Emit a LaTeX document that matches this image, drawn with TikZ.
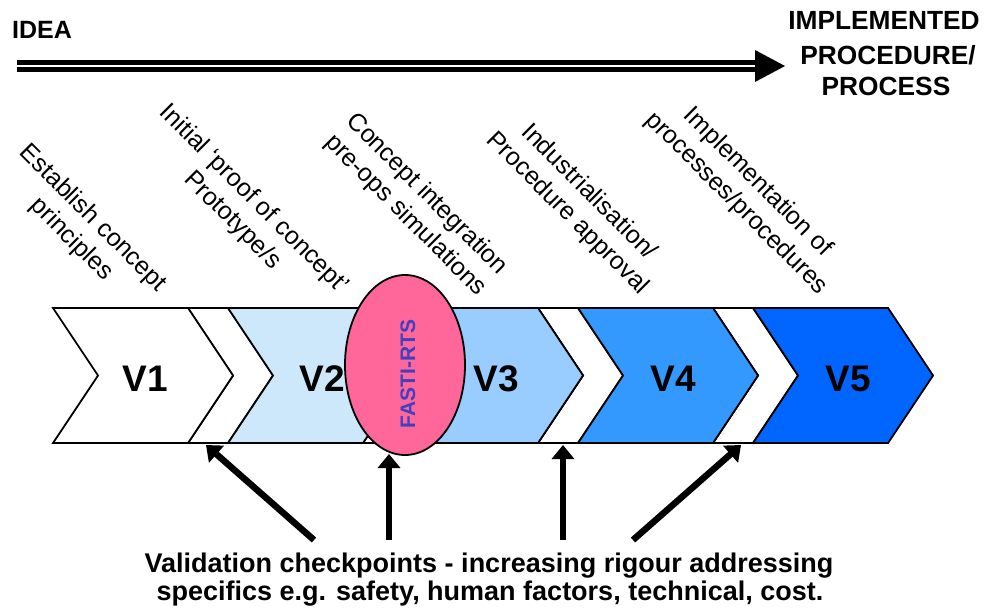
\documentclass[tikz,border=0pt]{standalone}
\usepackage{fontspec}
\setmainfont{Liberation Sans}
\usetikzlibrary{arrows.meta,shapes.geometric}

\definecolor{stageA}{RGB}{255,255,255}
\definecolor{stageB}{RGB}{204,232,250}
\definecolor{stageC}{RGB}{153,204,255}
\definecolor{stageD}{RGB}{51,153,255}
\definecolor{stageE}{RGB}{0,102,255}
\definecolor{fastipink}{RGB}{255,102,153}
\definecolor{fastitext}{RGB}{64,64,192}

% chevron: left x, top width, fill colour (band from y=308 to y=443)
\newcommand\chevronshape[3]{%
  \filldraw[chevron, fill=#3] (#1,308) -- ++(#2,0) -- ++(45,67.5) -- ++(-45,67.5)
    -- ++(-#2,0) -- ++(45,-67.5) -- cycle;}

\begin{document}
\begin{tikzpicture}[x=1pt,y=-1pt,
  chevron/.style={draw=black, line width=1.8pt, line join=miter},
  stagelabel/.style={font=\bfseries\fontsize{37}{40}\selectfont, inner sep=0pt},
  steplabel/.style={rotate=-45, align=center, inner sep=0pt,
    font=\fontsize{25}{30}\selectfont},
  headline/.style={font=\bfseries\fontsize{25}{30}\selectfont, inner sep=0pt},
  goalline/.style={font=\bfseries\fontsize{26.3}{30}\selectfont, inner sep=0pt, anchor=base},
  caption/.style={font=\bfseries\fontsize{27}{30}\selectfont, inner sep=0pt, anchor=base},
  checkarrow/.style={line width=6.5pt, -{Triangle[length=14pt,width=22pt]}}
]
\useasboundingbox (0,0) rectangle (988,615);

% progress arrow across the top
\node[headline, anchor=base west] (idea) at (12,39) {IDEA};
\node[goalline] (impl1) at (884,30) {IMPLEMENTED};
\node[goalline] (impl2) at (888,65) {PROCEDURE/};
\node[goalline] (impl3) at (886,96) {PROCESS};
\coordinate (progStart) at (17,66);
\coordinate (progHead) at (757,66);
\coordinate (progTip) at (785,66);
\draw[line width=5pt, double=white, double distance=2pt] (progStart) -- (progHead);
\fill (755,50) -- (progTip) -- (755,82) -- cycle;

% stage chevrons with the white gaps between them
\chevronshape{188}{40}{white}
\chevronshape{363}{40}{white}
\chevronshape{538}{40}{white}
\chevronshape{713}{40}{white}
\chevronshape{53}{135}{stageA}
\chevronshape{228}{135}{stageB}
\chevronshape{403}{135}{stageC}
\chevronshape{578}{135}{stageD}
\chevronshape{753}{135}{stageE}

\node[stagelabel] (v1) at (145,379) {V1};
\node[stagelabel] (v2) at (322,379) {V2};
\node[stagelabel] (v3) at (496,379) {V3};
\node[stagelabel] (v4) at (673,379) {V4};
\node[stagelabel] (v5) at (848,379) {V5};

% stage descriptions
\node[steplabel] (d1) at (82,229) {Establish concept\\principles};
\node[steplabel] (d2) at (243,210) {Initial ‘proof of concept’\\Prototype/s};
\node[steplabel] (d3) at (416,205) {Concept integration\\pre-ops simulations};
\node[steplabel] (d4) at (578,203) {Industrialisation/\\Procedure approval};
\node[steplabel] (d5) at (747,193) {Implementation of\\processes/procedures};

% FASTI-RTS marker
\node[ellipse, draw=black, line width=1.8pt, fill=fastipink,
  minimum width=120pt, minimum height=180pt, inner sep=0pt] (fasti) at (405,365) {};
\node[rotate=90, text=fastitext, font=\bfseries\fontsize{21}{24}\selectfont,
  inner sep=0pt] (fastilabel) at (408,374) {FASTI-RTS};

% validation checkpoints
\node[caption] (cap1) at (489,572) {Validation checkpoints - increasing rigour addressing};
\node[caption] (cap2) at (490,600) {specifics e.g. safety, human factors, technical, cost.};

\coordinate (s1) at (314,540);
\coordinate (s2) at (389,540);
\coordinate (s3) at (563,540);
\coordinate (s4) at (633,540);
\coordinate (t1) at (206,445);
\coordinate (t2) at (389,454);
\coordinate (t3) at (563,445);
\coordinate (t4) at (741,445);
\draw[checkarrow] (s1) -- (t1);
\draw[checkarrow] (s2) -- (t2);
\draw[checkarrow] (s3) -- (t3);
\draw[checkarrow] (s4) -- (t4);
\end{tikzpicture}
\end{document}
